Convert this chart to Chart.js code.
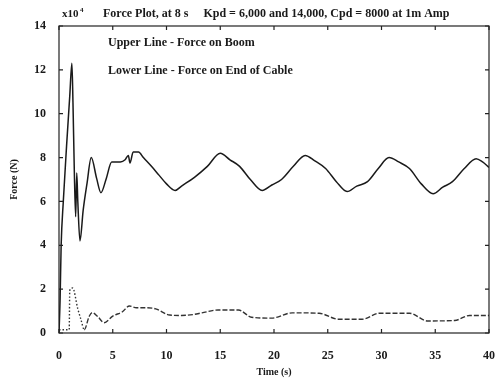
<!DOCTYPE html>
<html>
<head>
<meta charset="utf-8">
<script src="https://cdn.jsdelivr.net/npm/chart.js@4/dist/chart.umd.min.js"></script>
<style>
  html, body { margin: 0; padding: 0; background: #fff; }
  #plot { display: block; }
</style>
</head>
<body>
<canvas id="plot" width="495" height="381"></canvas>
<script>
// force on boom (upper line), time in s, force in 1e4 N
const boomTime = [0, 0.1, 0.2, 0.4, 0.7, 1.0, 1.2, 1.3, 1.42, 1.55, 1.65, 1.75, 1.95, 2.25, 2.6, 3.0, 3.5, 3.9, 4.4, 4.9, 5.7, 6.15, 6.45, 6.6, 6.9, 7.4, 7.85, 8.6, 9.3, 10.0, 10.8, 11.4, 12.6, 13.8, 15.0, 15.9, 16.8, 17.8, 18.9, 19.8, 20.7, 21.8, 22.9, 23.8, 24.8, 25.8, 26.8, 27.7, 28.7, 29.7, 30.7, 31.6, 32.6, 33.7, 34.8, 35.7, 36.6, 37.7, 38.8, 39.4, 40];
const boomForce = [0, 1.5, 4, 6, 8.5, 10.8, 12.3, 10.5, 7.5, 5.3, 7.3, 6.0, 4.2, 5.6, 6.8, 8.0, 7.05, 6.4, 7.05, 7.8, 7.8, 7.9, 8.1, 7.75, 8.25, 8.25, 8.0, 7.6, 7.2, 6.8, 6.5, 6.7, 7.1, 7.6, 8.2, 7.9, 7.6, 7.0, 6.5, 6.75, 7.0, 7.6, 8.1, 7.85, 7.5, 6.9, 6.45, 6.7, 6.9, 7.5, 8.0, 7.8, 7.5, 6.8, 6.35, 6.65, 6.9, 7.5, 7.95, 7.8, 7.55];

// force on end of cable (lower line)
const cableTime = [0, 0.95, 1.0, 1.27, 1.75, 2.05, 2.35, 2.8, 3.1, 3.6, 4.2, 5.0, 5.9, 6.55, 7.2, 8.1, 9.0, 10.3, 11.4, 12.6, 13.3, 14.8, 16.7, 17.9, 19.8, 21.7, 24.2, 26.0, 28.2, 29.8, 32.6, 34.3, 36.8, 38.2, 40];
const cableForce = [0.15, 0.15, 1.95, 2.05, 1.1, 0.6, 0.15, 0.75, 0.93, 0.75, 0.47, 0.77, 0.97, 1.23, 1.15, 1.15, 1.1, 0.82, 0.8, 0.85, 0.92, 1.05, 1.05, 0.72, 0.68, 0.92, 0.9, 0.63, 0.63, 0.9, 0.9, 0.55, 0.57, 0.8, 0.8];

const xTicks = [0, 5, 10, 15, 20, 25, 30, 35, 40];
const yTicks = [0, 2, 4, 6, 8, 10, 12, 14];

const serif = '"Liberation Serif", "DejaVu Serif", serif';
const ink = '#1a1a1a';

function points(xs, ys) {
  return xs.map((x, i) => ({ x: x, y: ys[i] }));
}

// box around the plot, ticks pointing inwards, title and notes
const framePlugin = {
  id: 'frame',
  afterDraw(chart) {
    const c = chart.ctx;
    const a = chart.chartArea;
    const sx = chart.scales.x, sy = chart.scales.y;
    c.save();
    c.strokeStyle = '#222';
    c.lineWidth = 1.2;
    c.strokeRect(a.left, a.top, a.right - a.left, a.bottom - a.top);
    c.beginPath();
    xTicks.forEach(v => {
      const px = sx.getPixelForValue(v);
      c.moveTo(px, a.bottom); c.lineTo(px, a.bottom - 4);
      c.moveTo(px, a.top); c.lineTo(px, a.top + 4);
    });
    yTicks.forEach(v => {
      const py = sy.getPixelForValue(v);
      c.moveTo(a.left, py); c.lineTo(a.left + 4, py);
      c.moveTo(a.right, py); c.lineTo(a.right - 4, py);
    });
    c.stroke();

    c.fillStyle = ink;
    c.textBaseline = 'middle';
    c.textAlign = 'left';
    c.font = 'bold 11px ' + serif;
    c.fillText('x10', 62, 14);
    c.font = 'bold 7px ' + serif;
    c.fillText('4', 80, 10);
    c.font = 'bold 12px ' + serif;
    c.fillText('Force Plot, at 8 s     Kpd = 6,000 and 14,000, Cpd = 8000 at 1m Amp', 103, 14);
    c.fillText('Upper Line - Force on Boom', 108, 43);
    c.fillText('Lower Line - Force on End of Cable', 108, 71);
    c.restore();
  }
};

new Chart(document.getElementById('plot'), {
  type: 'line',
  data: {
    datasets: [{
      label: 'Force on Boom',
      data: points(boomTime, boomForce),
      borderColor: ink,
      borderWidth: 1.5,
      pointRadius: 0,
      cubicInterpolationMode: 'monotone',
      fill: false
    }, {
      label: 'Force on End of Cable',
      data: points(cableTime, cableForce),
      borderColor: '#333',
      borderWidth: 1.4,
      borderDash: [5, 2],
      pointRadius: 0,
      cubicInterpolationMode: 'monotone',
      fill: false,
      segment: {
        borderDash: ctx => ctx.p1.parsed.x <= 2.4 ? [1.5, 2] : undefined
      }
    }]
  },
  options: {
    responsive: false,
    animation: false,
    layout: { padding: { left: 0, right: 6, top: 26, bottom: 0 } },
    plugins: {
      legend: { display: false },
      tooltip: { enabled: false }
    },
    scales: {
      x: {
        type: 'linear',
        min: 0,
        max: 40,
        grid: { display: false },
        border: { display: false },
        afterFit: s => { s.height = 48; s.paddingLeft = 0; s.paddingRight = 0; },
        afterBuildTicks: s => { s.ticks = xTicks.map(v => ({ value: v })); },
        ticks: {
          color: ink,
          padding: 8,
          maxRotation: 0,
          font: { family: serif, size: 12, weight: 'bold' }
        },
        title: {
          display: true,
          text: 'Time (s)',
          color: ink,
          padding: { top: 0, bottom: 3 },
          font: { family: serif, size: 10, weight: 'bold' }
        }
      },
      y: {
        min: 0,
        max: 14,
        grid: { display: false },
        border: { display: false },
        afterFit: s => { s.width = 59; s.paddingTop = 0; s.paddingBottom = 0; },
        afterBuildTicks: s => { s.ticks = yTicks.map(v => ({ value: v })); },
        ticks: {
          color: ink,
          padding: 5,
          font: { family: serif, size: 12, weight: 'bold' }
        },
        title: {
          display: true,
          text: 'Force (N)',
          color: ink,
          padding: { top: 8, bottom: 0 },
          font: { family: serif, size: 10, weight: 'bold' }
        }
      }
    }
  },
  plugins: [framePlugin]
});
</script>
</body>
</html>
